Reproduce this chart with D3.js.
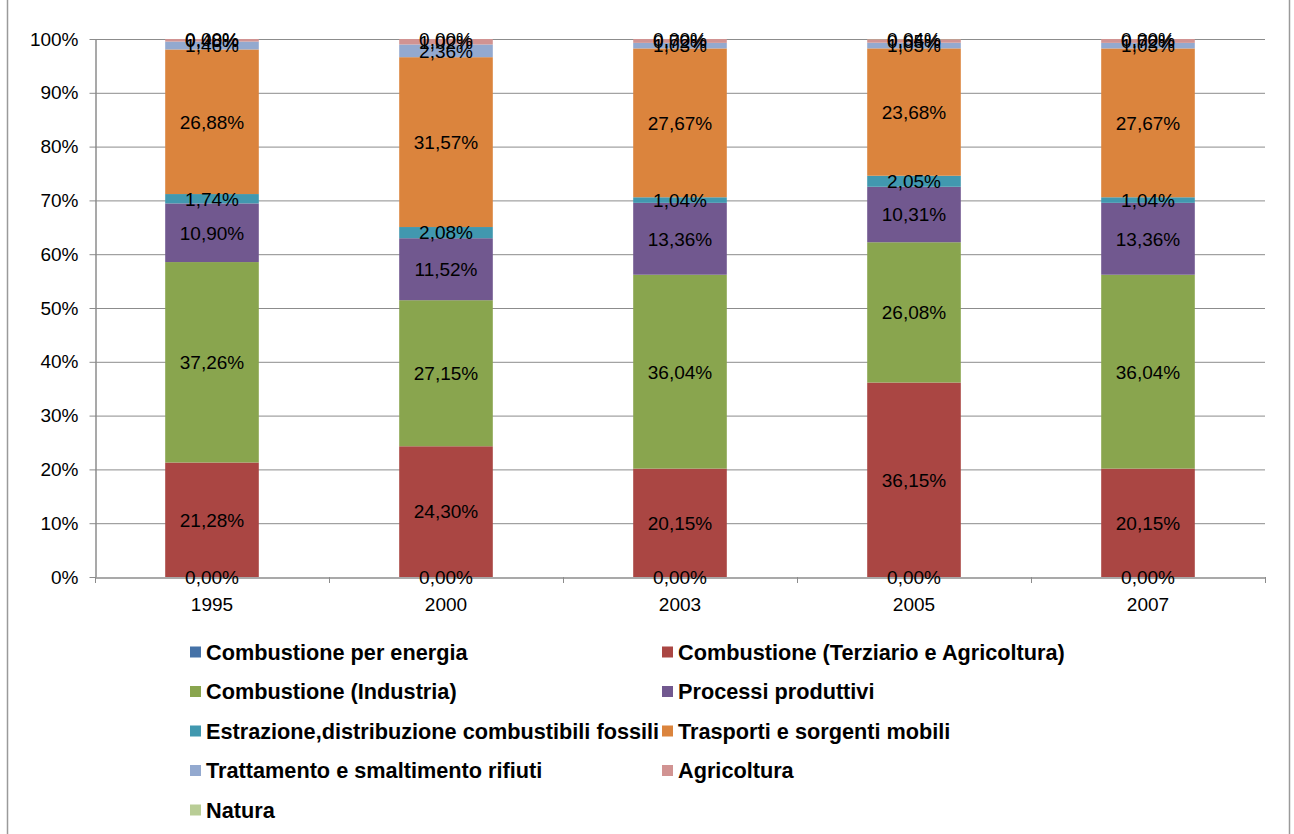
<!DOCTYPE html>
<html><head><meta charset="utf-8">
<script src="https://cdn.jsdelivr.net/npm/d3@7/dist/d3.min.js"></script>
<style>
body{margin:0;background:#fff;}
text{font-family:"Liberation Sans",Arial,sans-serif;}
</style></head>
<body><svg id="c" width="1294" height="834"></svg>
<script>
const years = ["1995","2000","2003","2005","2007"];
const seriesNames = ["Combustione per energia","Combustione (Terziario e Agricoltura)","Combustione (Industria)","Processi produttivi","Estrazione,distribuzione combustibili fossili","Trasporti e sorgenti mobili","Trattamento e smaltimento rifiuti","Agricoltura","Natura"];
const seriesColors = ["#4572A7","#AA4643","#89A54E","#71588F","#4198AF","#DB843D","#93A9CF","#D19392","#B9CD96"];
const energia     = [0.00, 0.00, 0.00, 0.00, 0.00];
const terziario   = [21.28, 24.30, 20.15, 36.15, 20.15];
const industria   = [37.26, 27.15, 36.04, 26.08, 36.04];
const processi    = [10.90, 11.52, 13.36, 10.31, 13.36];
const estrazione  = [1.74, 2.08, 1.04, 2.05, 1.04];
const trasporti   = [26.88, 31.57, 27.67, 23.68, 27.67];
const rifiuti     = [1.46, 2.36, 1.03, 1.05, 1.03];
const agricoltura = [0.48, 1.02, 0.72, 0.65, 0.72];
const natura      = [0.00, 0.00, 0.00, 0.04, 0.00];
const yTicks = [0,10,20,30,40,50,60,70,80,90,100];

const seriesValues = [energia,terziario,industria,processi,estrazione,trasporti,rifiuti,agricoltura,natura];
const rows = years.map((y,i)=>{const r={year:y};seriesNames.forEach((n,k)=>r[n]=seriesValues[k][i]);return r;});
const stack = d3.stack().keys(seriesNames).offset(d3.stackOffsetExpand)(rows);

const svg = d3.select("#c");
svg.append("rect").attr("x",7.5).attr("y",-2).attr("width",1282).attr("height",840).attr("fill","none").attr("stroke","#9a9a9a").attr("stroke-width",1.5);

const L=95, R=1265, T=39, B=577;
const x = d3.scaleBand().domain(years).range([L,R]).paddingInner(0.6).paddingOuter(0.3);
const xb = d3.scaleBand().domain(years).range([L,R]);
const y = d3.scaleLinear().domain([0,1]).range([B,T]);
const FS = 19;

// gridlines
svg.append("g").selectAll("line").data(yTicks.slice(1)).join("line")
  .attr("x1",L).attr("x2",R).attr("y1",d=>y(d/100)+0.5).attr("y2",d=>y(d/100)+0.5)
  .attr("stroke","#8c8c8c").attr("stroke-width",1);

// y axis
const ya = svg.append("g").attr("transform",`translate(${L+0.5},0)`)
  .call(d3.axisLeft(y).tickValues(yTicks.map(d=>d/100)).tickFormat(d=>Math.round(d*100)+"%").tickSize(6).tickSizeOuter(0));
ya.select(".domain").attr("stroke","#8c8c8c").attr("stroke-width",1.5);
ya.selectAll(".tick line").attr("stroke","#8c8c8c");
ya.selectAll(".tick text").attr("font-size",FS).attr("fill","#000").attr("x",-17).attr("font-family","Liberation Sans, Arial, sans-serif");

// x axis
const xa = svg.append("g").attr("transform",`translate(0,${B+0.5})`)
  .call(d3.axisBottom(xb).tickSize(0).tickSizeOuter(0));
xa.select(".domain").attr("stroke","#8c8c8c").attr("stroke-width",1.5);
xa.selectAll(".tick text").attr("font-size",FS).attr("fill","#000").attr("dy","1.6em").attr("font-family","Liberation Sans, Arial, sans-serif");
// category separator ticks
svg.append("g").selectAll("line").data(years.concat(["end"])).join("line")
  .attr("x1",(d,i)=>L+i*xb.step()+0.5).attr("x2",(d,i)=>L+i*xb.step()+0.5)
  .attr("y1",B).attr("y2",B+6).attr("stroke","#8c8c8c");

// bars
const layers = svg.append("g").selectAll("g").data(stack).join("g").attr("fill",(d,i)=>seriesColors[i]);
layers.selectAll("rect").data(d=>d).join("rect")
  .attr("x",d=>x(d.data.year)).attr("width",x.bandwidth())
  .attr("y",d=>y(d[1])).attr("height",d=>Math.max(0,y(d[0])-y(d[1])));

// labels
const fmt = v => v.toFixed(2).replace(".",",")+"%";
const lab = svg.append("g");
stack.forEach((s,k)=>{
  s.forEach((d,i)=>{
    lab.append("text").attr("x",x(d.data.year)+x.bandwidth()/2)
      .attr("y",(y(d[0])+y(d[1]))/2).attr("dy","0.36em")
      .attr("text-anchor","middle").attr("font-size",FS).attr("fill","#000")
      .text(fmt(seriesValues[k][i]));
  });
});

// legend
const legend = svg.append("g");
seriesNames.forEach((n,i)=>{
  const col=i%2, row=Math.floor(i/2);
  const lx = col===0?190:662, ly = 652+row*39.5;
  legend.append("rect").attr("x",lx).attr("y",ly-5.5).attr("width",11).attr("height",11).attr("fill",seriesColors[i]);
  legend.append("text").attr("x",lx+16).attr("y",ly).attr("dy","0.36em").attr("font-size",21.7).attr("font-weight","bold").attr("fill","#000").text(n);
});
</script></body></html>
